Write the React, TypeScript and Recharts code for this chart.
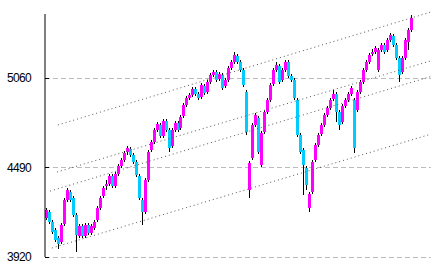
import { ComposedChart, Bar, XAxis, YAxis, CartesianGrid, ReferenceLine } from 'recharts';

// daily candles
const opens = [
  4168, 4207, 4143, 4092, 4041, 4016, 4130, 4283, 4334, 4296,
  4187, 4054, 4117, 4054, 4124, 4073, 4105, 4156, 4232, 4309,
  4372, 4385, 4436, 4372, 4449, 4500, 4538, 4589, 4608, 4570,
  4525, 4436, 4283, 4207, 4410, 4602, 4652, 4729, 4761, 4691,
  4786, 4729, 4627, 4729, 4774, 4742, 4818, 4888, 4933, 4952,
  4990, 4958, 4939, 5009, 4971, 5035, 5079, 5098, 5054, 5079,
  5009, 5047, 5124, 5162, 5200, 5162, 5111, 4971, 4347, 4551,
  4761, 4805, 4506, 4716, 4844, 4920, 5022, 5111, 5137, 5047,
  5111, 5162, 5073, 5047, 4920, 4697, 4602, 4487, 4232, 4334,
  4538, 4633, 4703, 4761, 4824, 4869, 4926, 4958, 4844, 4780,
  4882, 4920, 4958, 4920, 4856, 4971, 5035, 5111, 5162, 5213,
  5226, 5111, 5238, 5270, 5238, 5302, 5328, 5270, 5188, 5098,
  5188, 5290, 5366,
];
const highs = [
  4232, 4220, 4156, 4105, 4054, 4137, 4296, 4360, 4347, 4309,
  4200, 4130, 4130, 4137, 4137, 4130, 4156, 4245, 4309, 4372,
  4410, 4449, 4449, 4462, 4513, 4551, 4595, 4627, 4621, 4583,
  4538, 4449, 4296, 4423, 4602, 4665, 4742, 4780, 4774, 4799,
  4799, 4742, 4742, 4787, 4787, 4825, 4901, 4946, 4965, 5003,
  5003, 4971, 5029, 5022, 5048, 5092, 5111, 5111, 5099, 5092,
  5060, 5137, 5175, 5226, 5213, 5175, 5124, 4984, 4532, 4774,
  4837, 4818, 4723, 4857, 4933, 5029, 5124, 5162, 5150, 5124,
  5175, 5175, 5086, 5060, 4933, 4710, 4615, 4500, 4334, 4538,
  4646, 4710, 4774, 4837, 4882, 4933, 4984, 4971, 4857, 4895,
  4933, 4971, 5009, 4933, 4984, 5048, 5124, 5175, 5220, 5245,
  5264, 5251, 5283, 5283, 5315, 5347, 5341, 5283, 5201, 5201,
  5315, 5379, 5461,
];
const lows = [
  4155, 4130, 4066, 4015, 3971, 4003, 4117, 4270, 4270, 4174,
  3952, 4041, 4041, 4041, 4060, 4060, 4092, 4143, 4219, 4296,
  4347, 4372, 4359, 4359, 4436, 4487, 4525, 4570, 4557, 4512,
  4429, 4283, 4124, 4194, 4397, 4589, 4639, 4716, 4678, 4678,
  4716, 4589, 4614, 4716, 4716, 4729, 4805, 4875, 4920, 4939,
  4945, 4920, 4926, 4952, 4958, 5022, 5066, 5034, 5041, 4983,
  4996, 5034, 5111, 5149, 5149, 5098, 5003, 4697, 4296, 4538,
  4748, 4576, 4493, 4703, 4831, 4907, 5009, 5098, 5022, 5034,
  5098, 5060, 5034, 4920, 4684, 4576, 4315, 4347, 4207, 4321,
  4525, 4620, 4690, 4748, 4811, 4856, 4913, 4780, 4729, 4767,
  4869, 4907, 4945, 4582, 4843, 4958, 5022, 5098, 5149, 5200,
  5213, 5098, 5225, 5213, 5225, 5289, 5257, 5175, 5035, 5085,
  5175, 5238, 5353,
];
const closes = [
  4219, 4143, 4079, 4028, 4003, 4124, 4283, 4347, 4283, 4187,
  4060, 4117, 4054, 4124, 4073, 4117, 4143, 4232, 4296, 4359,
  4385, 4436, 4372, 4449, 4500, 4538, 4582, 4614, 4570, 4525,
  4442, 4296, 4207, 4410, 4589, 4652, 4729, 4767, 4691, 4786,
  4729, 4614, 4729, 4774, 4729, 4812, 4888, 4933, 4952, 4990,
  4958, 4933, 5016, 4965, 5035, 5079, 5098, 5047, 5086, 4996,
  5047, 5124, 5162, 5207, 5162, 5111, 5016, 4716, 4519, 4761,
  4824, 4589, 4710, 4844, 4920, 5016, 5111, 5143, 5035, 5111,
  5162, 5073, 5047, 4933, 4697, 4589, 4506, 4379, 4321, 4525,
  4633, 4697, 4761, 4824, 4869, 4920, 4958, 4844, 4761, 4882,
  4920, 4958, 4996, 4614, 4971, 5035, 5111, 5162, 5207, 5226,
  5251, 5238, 5270, 5226, 5302, 5334, 5270, 5188, 5079, 5188,
  5302, 5366, 5442,
];

const yTicks = [3920, 4490, 5060];

// dotted channel lines: [x index, price] at both ends
const trendStarts = [
  [3.8, 4761],
  [3.5, 4461],
  [1.2, 4340],
  [1.8, 3977],
];
const trendEnds = [
  [128.5, 5481],
  [128.5, 5170],
  [128.5, 5070],
  [128.5, 4703],
];

const data = closes.map((c, i) => ({
  i,
  open: opens[i],
  high: highs[i],
  low: lows[i],
  close: c,
  range: [lows[i], highs[i]],
}));

const Candle = (props: any) => {
  const { x, y, width, height, payload } = props;
  const { open, close, high, low } = payload;
  const top = Math.min(y, y + height);
  const h = Math.abs(height);
  const k = high === low ? 0 : h / (high - low);
  const bodyTop = top + (high - Math.max(open, close)) * k;
  const bodyH = Math.max(1, Math.abs(open - close) * k);
  const bx = Math.round(x + width / 2 - 1.5);
  return (
    <g shapeRendering="crispEdges">
      <rect x={bx + 1} y={top} width={1} height={Math.max(h, 1)} fill="#000" />
      <rect x={bx} y={bodyTop} width={3} height={bodyH} fill={close >= open ? '#ff00ff' : '#00ccff'} />
    </g>
  );
};

const PriceTick = (props: any) => {
  const { y, payload } = props;
  return (
    <g>
      <text
        x={7}
        y={y}
        dy={4}
        textAnchor="start"
        fontFamily="Liberation Sans"
        fontSize={12}
        letterSpacing={-0.7}
        fill="#000"
      >
        {payload.value}
      </text>
      <line x1={45} x2={49} y1={y} y2={y} stroke="#000" shapeRendering="crispEdges" />
    </g>
  );
};

export default function App() {
  return (
    <div style={{ position: 'absolute', left: 0, top: 0, background: '#fff' }}>
      <ComposedChart width={431} height={271} data={data} margin={{ top: 14, right: 0, bottom: 14, left: 0 }}>
        <CartesianGrid
          vertical={false}
          horizontalValues={yTicks}
          stroke="#bbbbbb"
          strokeDasharray="5 3"
          shapeRendering="crispEdges"
        />
        <XAxis type="number" dataKey="i" domain={[-0.5, 128.5]} hide allowDataOverflow />
        <YAxis
          width={45}
          domain={[3920, 5468]}
          ticks={yTicks}
          allowDataOverflow
          tickLine={false}
          tick={PriceTick}
          axisLine={{ stroke: '#000', strokeWidth: 1 }}
        />
        {trendStarts.map((s, n) => (
          <ReferenceLine
            key={n}
            segment={[
              { x: s[0], y: s[1] },
              { x: trendEnds[n][0], y: trendEnds[n][1] },
            ]}
            stroke="#555"
            strokeDasharray="1 3"
            ifOverflow="visible"
          />
        ))}
        <Bar dataKey="range" barSize={3} shape={Candle} isAnimationActive={false} />
      </ComposedChart>
    </div>
  );
}
